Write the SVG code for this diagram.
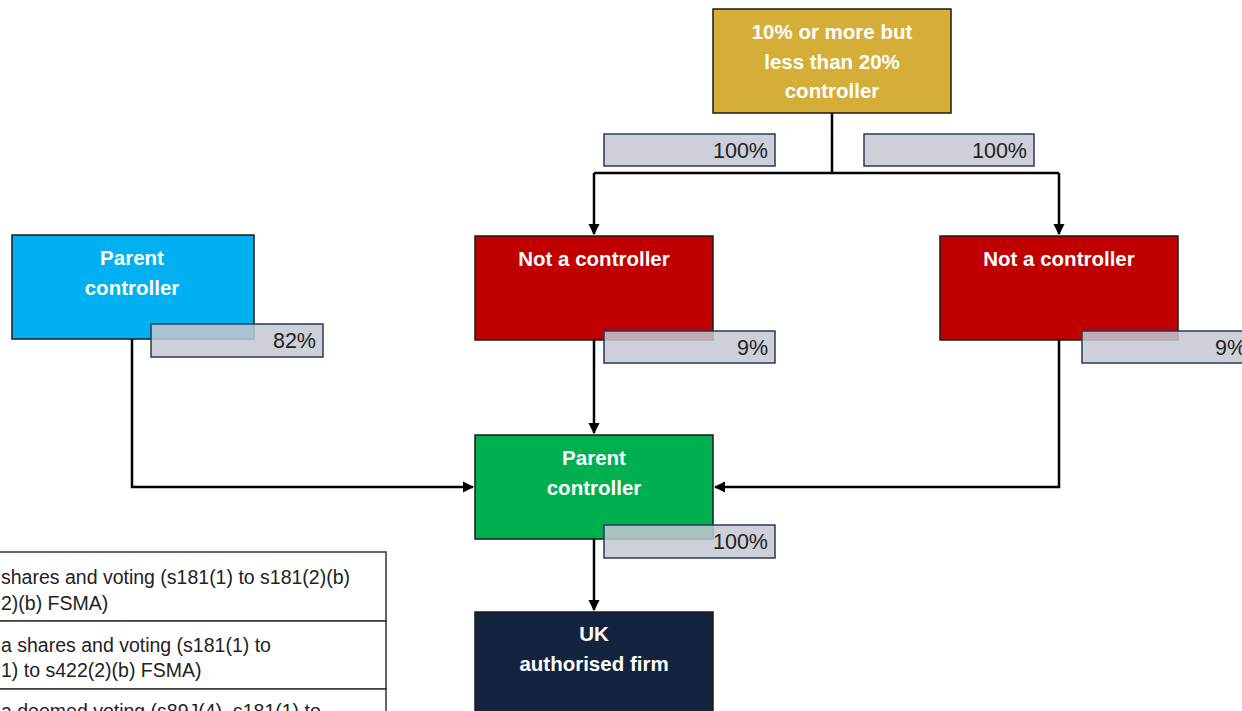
<svg xmlns="http://www.w3.org/2000/svg" width="1242" height="711" viewBox="0 0 1242 711">
  <style>
    .node { stroke: #1a1a1a; stroke-width: 1.5; }
    .label { font-family: "Liberation Sans", Arial, sans-serif; font-weight: bold; font-size: 20.5px; fill: #ffffff; text-anchor: middle; }
    .pct { fill: #c4c8d2; fill-opacity: 0.85; stroke: #243a55; stroke-width: 1.5; }
    .pcttext { font-family: "Liberation Sans", Arial, sans-serif; font-size: 21.5px; fill: #222222; text-anchor: end; }
    .wire { fill: none; stroke: #000000; stroke-width: 2.5; }
    .legend { fill: #ffffff; stroke: #333333; stroke-width: 1.5; }
    .legendtext { font-family: "Liberation Sans", Arial, sans-serif; font-size: 19.5px; fill: #222222; }
  </style>
  <defs>
    <marker id="arrow" viewBox="0 0 10 10" refX="9" refY="5" markerWidth="4.5" markerHeight="4.5" orient="auto">
      <path d="M0,0 L10,5 L0,10 z" fill="#000000"/>
    </marker>
  </defs>
  <rect width="1242" height="711" fill="#ffffff"/>

  <!-- connectors -->
  <g id="connectors">
    <path class="wire" d="M832,113 V173 M594,173 H1059"/>
    <path class="wire" d="M594,173 V234" marker-end="url(#arrow)"/>
    <path class="wire" d="M1059,173 V234" marker-end="url(#arrow)"/>
    <path class="wire" d="M132,339 V487 H473" marker-end="url(#arrow)"/>
    <path class="wire" d="M594,340 V433" marker-end="url(#arrow)"/>
    <path class="wire" d="M1059,340 V487 H715" marker-end="url(#arrow)"/>
    <path class="wire" d="M594,539 V610" marker-end="url(#arrow)"/>
  </g>

  <!-- top holder -->
  <g id="node-top">
    <rect class="node" x="713" y="9" width="238" height="104" fill="#d4ae37"/>
    <text class="label" x="832" y="39">10% or more but</text>
    <text class="label" x="832" y="69">less than 20%</text>
    <text class="label" x="832" y="98">controller</text>
  </g>
  <g id="pct-top-left">
    <rect class="pct" x="604" y="134" width="171" height="32"/>
    <text class="pcttext" x="768" y="158">100%</text>
  </g>
  <g id="pct-top-right">
    <rect class="pct" x="864" y="134" width="170" height="32"/>
    <text class="pcttext" x="1027" y="158">100%</text>
  </g>

  <!-- blue parent -->
  <g id="node-parent-blue">
    <rect class="node" x="12" y="235" width="242" height="104" fill="#00b0f0"/>
    <text class="label" x="132" y="265">Parent</text>
    <text class="label" x="132" y="295">controller</text>
  </g>
  <g id="pct-82">
    <rect class="pct" x="151" y="324" width="172" height="33"/>
    <text class="pcttext" x="316" y="348">82%</text>
  </g>

  <!-- red left -->
  <g id="node-red-left">
    <rect class="node" x="475" y="236" width="238" height="104" fill="#c00000"/>
    <text class="label" x="594" y="266">Not a controller</text>
  </g>
  <g id="pct-9-left">
    <rect class="pct" x="604" y="331" width="171" height="32"/>
    <text class="pcttext" x="768" y="355">9%</text>
  </g>

  <!-- red right -->
  <g id="node-red-right">
    <rect class="node" x="940" y="236" width="238" height="104" fill="#c00000"/>
    <text class="label" x="1059" y="266">Not a controller</text>
  </g>
  <g id="pct-9-right">
    <rect class="pct" x="1082" y="331" width="171" height="32"/>
    <text class="pcttext" x="1246" y="355">9%</text>
  </g>

  <!-- green parent -->
  <g id="node-parent-green">
    <rect class="node" x="475" y="435" width="238" height="104" fill="#00b050"/>
    <text class="label" x="594" y="465">Parent</text>
    <text class="label" x="594" y="495">controller</text>
  </g>
  <g id="pct-100-bottom">
    <rect class="pct" x="604" y="525" width="171" height="33"/>
    <text class="pcttext" x="768" y="549">100%</text>
  </g>

  <!-- firm -->
  <g id="node-firm">
    <rect class="node" x="475" y="612" width="238" height="110" fill="#14243f"/>
    <text class="label" x="594" y="641">UK</text>
    <text class="label" x="594" y="671">authorised firm</text>
  </g>

  <!-- key table -->
  <g id="legend">
    <rect class="legend" x="-10" y="552" width="396" height="69"/>
    <rect class="legend" x="-10" y="621" width="396" height="68"/>
    <rect class="legend" x="-10" y="689" width="396" height="40"/>
    <text class="legendtext" x="1" y="584">shares and voting (s181(1) to s181(2)(b)</text>
    <text class="legendtext" x="1" y="610">2)(b) FSMA)</text>
    <text class="legendtext" x="1" y="652">a shares and voting (s181(1) to</text>
    <text class="legendtext" x="1" y="677">1) to s422(2)(b) FSMA)</text>
    <text class="legendtext" x="1" y="718">a deemed voting (s89J(4), s181(1) to</text>
  </g>
</svg>
